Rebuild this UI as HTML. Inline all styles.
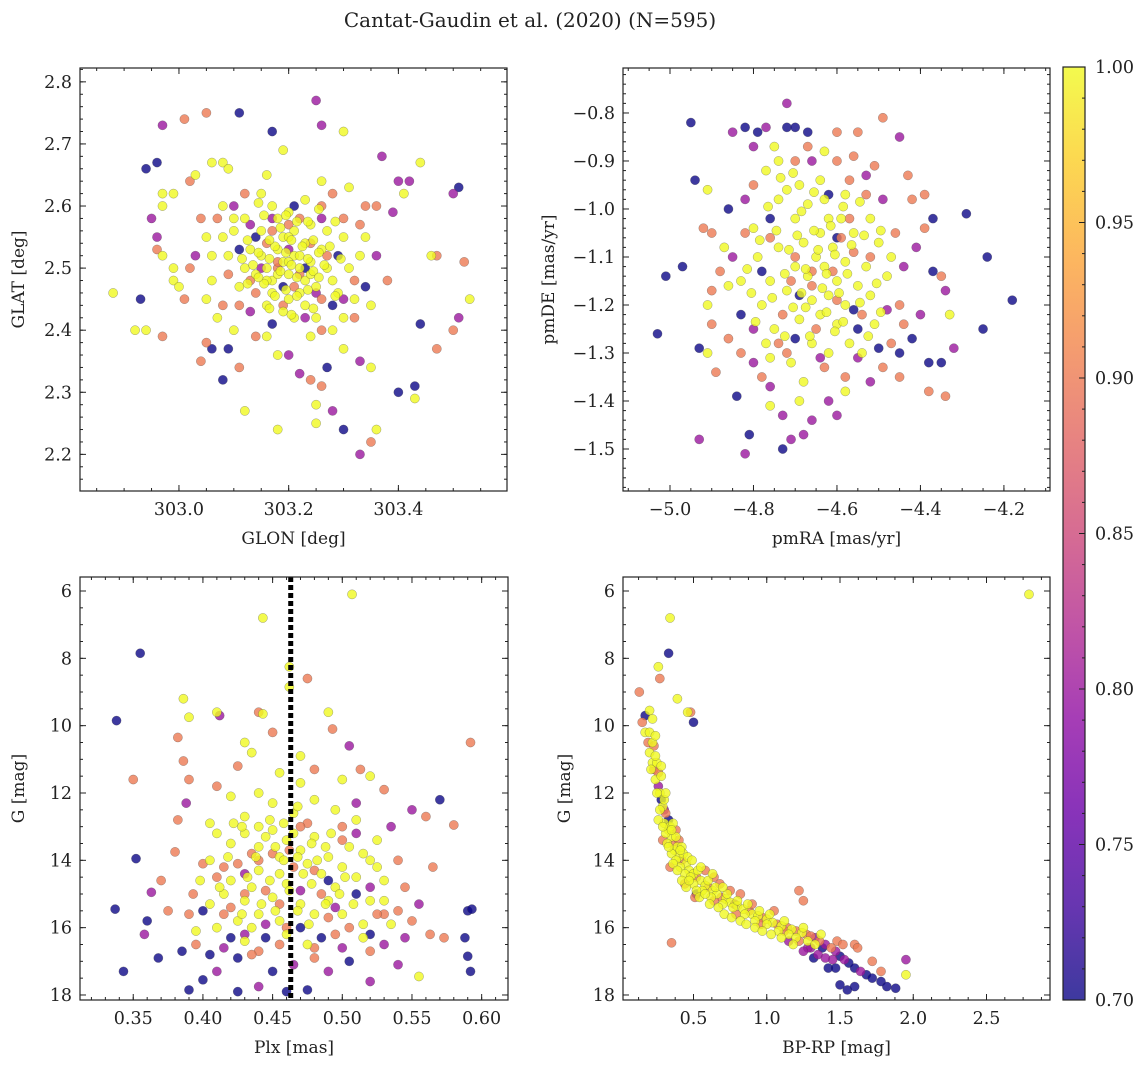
<!DOCTYPE html>
<html><head><meta charset="utf-8"><style>
body{margin:0;background:#fff;}
svg text{font-family:"DejaVu Serif","Liberation Serif",serif;fill:#222;}
</style></head><body>
<svg id="fig" width="1148" height="1067" viewBox="0 0 1148 1067" xmlns="http://www.w3.org/2000/svg">
<defs>
<linearGradient id="plasma" x1="0" y1="1" x2="0" y2="0">
<stop offset="0" stop-color="#0d0887"/><stop offset="0.1" stop-color="#41049d"/><stop offset="0.2" stop-color="#6a00a8"/><stop offset="0.3" stop-color="#8f0da4"/><stop offset="0.4" stop-color="#b12a90"/><stop offset="0.5" stop-color="#cc4778"/><stop offset="0.6" stop-color="#e16462"/><stop offset="0.7" stop-color="#f2844b"/><stop offset="0.8" stop-color="#fca636"/><stop offset="0.9" stop-color="#fcce25"/><stop offset="1" stop-color="#f0f921"/>
</linearGradient>
</defs>
<text x="530" y="27" font-size="20" text-anchor="middle">Cantat-Gaudin et al. (2020) (N=595)</text>
</svg>
<script>
// ---- data (x, y, membership probability) ----
const glonGlat = [
[302.88,2.46,1],[302.92,2.40,1],[302.94,2.40,1],[302.93,2.45,0.7],[302.95,2.58,0.8],[302.96,2.55,0.8],[302.96,2.53,0.9],[302.97,2.73,0.8],[302.96,2.67,0.7],[302.94,2.66,0.7],[303.01,2.74,0.9],[302.97,2.62,1],[302.97,2.60,1],[302.99,2.62,1],[303.02,2.64,0.9],[303.03,2.65,1],[302.99,2.50,1],[302.99,2.48,1],[302.97,2.52,1],[303.0,2.47,1],[303.01,2.45,0.9],[302.97,2.39,0.9],[303.05,2.75,0.9],[303.11,2.75,0.7],[303.06,2.67,1],[303.08,2.67,1],[303.09,2.66,1],[303.17,2.72,0.7],[303.19,2.69,1],[303.16,2.65,1],[303.25,2.77,0.8],[303.26,2.73,0.8],[303.3,2.72,1],[303.37,2.68,0.8],[303.44,2.67,1],[303.4,2.64,0.8],[303.42,2.64,0.8],[303.41,2.62,1],[303.5,2.62,0.8],[303.51,2.63,0.7],[303.39,2.59,0.8],[303.36,2.60,0.9],[303.34,2.60,0.9],[303.46,2.52,1],[303.47,2.52,0.9],[303.52,2.51,0.9],[303.53,2.45,1],[303.51,2.42,0.8],[303.5,2.40,0.9],[303.44,2.41,0.7],[303.47,2.37,0.9],[303.43,2.31,0.7],[303.43,2.29,1],[303.4,2.30,0.7],[303.36,2.24,1],[303.35,2.22,0.9],[303.33,2.20,0.8],[303.3,2.24,0.7],[303.35,2.34,1],[303.33,2.35,0.8],[303.28,2.27,0.8],[303.25,2.25,1],[303.25,2.28,1],[303.18,2.24,1],[303.12,2.27,1],[303.08,2.32,0.7],[303.06,2.37,0.7],[303.09,2.37,0.7],[303.11,2.34,0.9],[303.05,2.38,0.9],[303.04,2.35,0.9],[303.2,2.36,0.8],[303.22,2.33,0.8],[303.18,2.36,1],[303.24,2.32,0.9],[303.26,2.31,0.9],[303.27,2.34,0.7],[303.3,2.37,1],
[303.05,2.55,1],[303.07,2.58,0.9],[303.03,2.52,0.8],[303.06,2.48,1],[303.08,2.44,0.9],[303.1,2.6,0.8],[303.12,2.62,0.9],[303.28,2.62,0.9],[303.31,2.63,1],[303.33,2.57,0.9],[303.36,2.52,0.8],[303.38,2.48,0.9],[303.35,2.44,1],[303.32,2.42,0.9],[303.3,2.45,0.8],[303.34,2.47,0.7],[303.13,2.43,0.8],[303.1,2.40,1],[303.14,2.39,0.9],[303.17,2.41,0.7],[303.26,2.40,0.9],[303.29,2.52,0.7],[303.11,2.53,0.7],[303.13,2.57,0.8],[303.26,2.58,0.8],[303.04,2.58,0.9],[303.02,2.5,0.9],
[303.15,2.52,1],[303.16,2.5,1],[303.17,2.48,1],[303.18,2.53,1],[303.19,2.51,1],[303.2,2.49,1],[303.21,2.52,1],[303.22,2.5,1],[303.23,2.48,1],[303.24,2.51,1],[303.19,2.55,1],[303.21,2.56,1],[303.23,2.54,1],[303.17,2.46,1],[303.2,2.45,1],[303.22,2.46,1],[303.25,2.47,1],[303.26,2.53,1],[303.14,2.49,1],[303.13,2.53,1],[303.18,2.58,1],[303.2,2.59,1],[303.24,2.57,1],[303.27,2.5,1],[303.16,2.44,1],[303.19,2.43,1],[303.23,2.44,1],[303.15,2.56,1],[303.12,2.5,1],[303.28,2.48,1],[303.18,2.5,0.9],[303.21,2.47,0.9],[303.24,2.54,0.9],[303.16,2.54,0.9],[303.2,2.53,0.8],[303.23,2.5,0.7],[303.19,2.47,0.7],[303.17,2.56,0.9],[303.22,2.58,0.9],[303.26,2.45,0.9],[303.14,2.46,0.9],[303.11,2.47,1],[303.09,2.52,1],[303.1,2.56,1],[303.27,2.56,1],[303.29,2.46,1],[303.25,2.42,1],[303.21,2.42,1],[303.17,2.6,1],[303.23,2.61,1],[303.2,2.51,1],[303.18,2.49,1],[303.22,2.52,1],[303.2,2.55,1],[303.16,2.48,1],[303.24,2.49,1],[303.12,2.58,1],[303.3,2.55,1],[303.08,2.55,1],[303.31,2.5,1],[303.05,2.45,1],[303.33,2.52,1],[303.15,2.62,1],[303.26,2.64,1],[303.07,2.42,1],[303.28,2.4,1],
[303.165,2.515,1],[303.175,2.535,1],[303.185,2.495,1],[303.195,2.525,1],[303.205,2.505,1],[303.215,2.485,1],[303.225,2.535,1],[303.235,2.515,1],[303.245,2.495,1],[303.155,2.475,1],[303.175,2.455,1],[303.195,2.465,1],[303.215,2.455,1],[303.235,2.465,1],[303.255,2.485,1],[303.255,2.525,1],[303.245,2.545,1],[303.205,2.545,1],[303.185,2.565,1],[303.165,2.545,1],[303.145,2.525,1],[303.135,2.505,1],[303.145,2.485,1],[303.265,2.505,1],[303.275,2.535,1],[303.215,2.575,1],[303.195,2.585,1],[303.235,2.575,1],[303.155,2.585,1],[303.125,2.545,1],[303.115,2.515,1],[303.125,2.475,1],[303.165,2.435,1],[303.205,2.425,1],[303.245,2.435,1],[303.285,2.455,1],[303.295,2.515,1],[303.285,2.575,1],[303.255,2.595,1],[303.145,2.605,1],
[303.18,2.51,0.9],[303.22,2.49,0.9],[303.2,2.57,0.9],[303.25,2.46,0.8],[303.15,2.5,0.8],[303.27,2.52,0.9],[303.19,2.44,0.9],[303.23,2.42,0.8],[303.13,2.48,0.9],[303.17,2.58,0.8],[303.26,2.6,0.9],[303.21,2.6,0.7],[303.14,2.55,0.7],[303.28,2.44,0.7],[303.11,2.44,0.9],[303.3,2.58,0.9],[303.09,2.49,0.9],[303.32,2.48,0.9],[303.1,2.58,1],[303.3,2.42,1],[303.16,2.39,1],[303.24,2.39,1],[303.06,2.52,1],[303.34,2.55,1],[303.08,2.6,1],[303.32,2.45,1]
];
const pmPts = [
[-5.03,-1.26,0.7],[-5.01,-1.14,0.7],[-4.97,-1.12,0.7],[-4.95,-0.82,0.7],[-4.94,-0.94,0.7],[-4.93,-1.29,0.7],[-4.93,-1.48,0.8],[-4.91,-0.96,1],[-4.92,-1.04,0.9],[-4.9,-1.05,0.9],[-4.9,-1.17,0.9],[-4.9,-1.24,0.9],[-4.91,-1.30,1],[-4.89,-1.34,0.9],[-4.91,-1.20,1],[-4.85,-0.84,0.8],[-4.82,-0.83,0.7],[-4.79,-0.84,0.7],[-4.8,-0.87,0.8],[-4.77,-0.83,0.8],[-4.72,-0.83,0.7],[-4.7,-0.83,0.7],[-4.72,-0.78,0.8],[-4.67,-0.84,0.7],[-4.6,-0.84,0.9],[-4.55,-0.84,0.9],[-4.49,-0.81,0.9],[-4.45,-0.85,0.8],[-4.86,-1.0,0.7],[-4.84,-1.39,0.7],[-4.81,-1.47,0.7],[-4.82,-1.51,0.8],[-4.76,-1.41,1],[-4.73,-1.43,0.8],[-4.73,-1.50,0.7],[-4.71,-1.48,0.8],[-4.68,-1.47,0.8],[-4.66,-1.44,0.8],[-4.62,-1.40,0.8],[-4.6,-1.43,0.8],[-4.38,-1.32,0.7],[-4.35,-1.32,0.7],[-4.34,-1.39,0.9],[-4.38,-1.38,0.9],[-4.33,-1.22,1],[-4.32,-1.29,0.8],[-4.34,-1.17,0.8],[-4.29,-1.01,0.7],[-4.25,-1.25,0.7],[-4.24,-1.10,0.7],[-4.18,-1.19,0.7],[-4.37,-1.13,0.7],[-4.37,-1.02,0.7],[-4.35,-1.14,0.9],[-4.39,-0.97,0.9],[-4.39,-1.04,0.9],[-4.42,-1.27,0.7],[-4.45,-1.35,0.9],[-4.42,-0.98,0.9],[-4.49,-0.98,0.8],[-4.51,-0.91,0.9],[-4.48,-1.21,0.8],[-4.52,-1.36,0.8],[-4.55,-1.31,0.8],[-4.5,-1.29,0.7],
[-4.85,-1.1,0.8],[-4.83,-1.22,0.7],[-4.83,-1.3,0.9],[-4.8,-1.25,0.8],[-4.78,-1.35,0.9],[-4.76,-1.31,1],[-4.8,-0.95,0.9],[-4.77,-0.92,1],[-4.74,-0.9,1],[-4.7,-0.9,0.9],[-4.66,-0.9,0.8],[-4.6,-0.9,0.9],[-4.57,-0.94,0.9],[-4.53,-0.97,0.9],[-4.46,-1.05,0.9],[-4.44,-1.12,0.8],[-4.45,-1.2,0.9],[-4.47,-1.28,0.9],[-4.58,-1.35,0.9],[-4.63,-1.33,0.9],[-4.68,-1.36,1],[-4.72,-1.3,0.9],[-4.86,-1.16,1],[-4.87,-1.08,1],[-4.82,-1.05,0.9],[-4.62,-0.97,0.7],[-4.55,-1.25,0.7],[-4.7,-1.27,0.7],[-4.76,-1.02,0.7],
[-4.65,-1.1,1],[-4.63,-1.12,1],[-4.61,-1.08,1],[-4.67,-1.14,1],[-4.6,-1.15,1],[-4.64,-1.05,1],[-4.68,-1.07,1],[-4.7,-1.12,1],[-4.58,-1.11,1],[-4.62,-1.18,1],[-4.66,-1.19,1],[-4.72,-1.17,1],[-4.56,-1.05,1],[-4.59,-1.02,1],[-4.7,-1.02,1],[-4.74,-1.08,1],[-4.55,-1.16,1],[-4.64,-1.22,1],[-4.69,-1.23,1],[-4.6,-1.24,1],[-4.53,-1.12,1],[-4.76,-1.15,1],[-4.67,-0.99,1],[-4.63,-0.98,1],[-4.72,-0.96,1],[-4.58,-1.2,1],[-4.52,-1.18,1],[-4.78,-1.2,1],[-4.75,-1.25,1],[-4.66,-1.28,1],[-4.57,-1.28,1],[-4.51,-1.24,1],[-4.5,-1.07,1],[-4.52,-1.02,1],[-4.79,-1.1,1],[-4.8,-1.04,1],[-4.74,-0.98,1],[-4.69,-0.95,1],[-4.62,-1.02,1],[-4.66,-1.16,0.9],[-4.61,-1.13,0.9],[-4.7,-1.1,0.9],[-4.56,-1.09,0.9],[-4.65,-1.25,0.9],[-4.73,-1.22,0.9],[-4.59,-1.06,0.9],[-4.54,-1.22,0.9],[-4.48,-1.14,1],[-4.47,-1.1,1],[-4.83,-1.15,1],[-4.77,-1.28,1],[-4.62,-1.3,1],[-4.54,-1.3,1],[-4.71,-1.32,1],[-4.64,-0.94,1],[-4.58,-0.97,1],
[-4.645,-1.085,1],[-4.625,-1.135,1],[-4.605,-1.095,1],[-4.675,-1.125,1],[-4.685,-1.175,1],[-4.635,-1.165,1],[-4.595,-1.175,1],[-4.655,-1.045,1],[-4.695,-1.055,1],[-4.715,-1.085,1],[-4.725,-1.135,1],[-4.575,-1.135,1],[-4.565,-1.075,1],[-4.615,-1.035,1],[-4.675,-1.205,1],[-4.625,-1.215,1],[-4.705,-1.205,1],[-4.745,-1.045,1],[-4.755,-1.185,1],[-4.545,-1.195,1],[-4.585,-1.235,1],[-4.535,-1.055,1],[-4.685,-1.005,1],[-4.655,-0.965,1],[-4.735,-0.935,1],[-4.705,-0.925,1],[-4.605,-1.255,1],[-4.665,-1.265,1],[-4.725,-1.265,1],[-4.785,-1.065,1],[-4.815,-1.125,1],[-4.805,-1.175,1],[-4.505,-1.155,1],[-4.495,-1.215,1],[-4.525,-1.265,1],[-4.795,-1.235,1],[-4.765,-0.995,1],[-4.585,-0.995,1],[-4.545,-0.985,1],[-4.495,-1.045,1],
[-4.66,-1.13,0.9],[-4.6,-1.19,0.9],[-4.71,-1.15,0.9],[-4.57,-1.02,0.9],[-4.76,-1.06,0.9],[-4.52,-1.1,0.9],[-4.74,-1.28,0.9],[-4.64,-1.31,0.8],[-4.8,-1.32,0.8],[-4.82,-0.98,0.8],[-4.53,-0.93,0.8],[-4.49,-1.33,0.9],[-4.44,-1.24,0.9],[-4.43,-0.93,0.9],[-4.86,-1.27,0.9],[-4.88,-1.13,0.9],[-4.67,-0.87,0.9],[-4.63,-0.88,1],[-4.75,-0.87,1],[-4.58,-1.38,1],[-4.69,-1.4,1],[-4.76,-1.37,0.8],[-4.56,-0.89,0.9],[-4.6,-1.06,0.7],[-4.69,-1.18,0.7],[-4.56,-1.21,0.7],[-4.78,-1.13,0.7],[-4.45,-1.3,0.7],[-4.4,-1.22,0.8],[-4.41,-1.08,0.8]
];
const plxG = [
[0.338,9.85,0.7],[0.355,7.85,0.7],[0.337,15.45,0.7],[0.343,17.3,0.7],[0.35,11.6,0.9],[0.352,13.95,0.7],[0.36,15.8,0.7],[0.363,14.95,0.8],[0.358,16.2,0.8],[0.368,16.9,0.7],[0.38,13.75,0.9],[0.382,10.35,0.9],[0.386,11.05,0.9],[0.382,12.8,0.9],[0.388,12.3,0.8],[0.39,11.6,0.9],[0.386,9.2,1],[0.39,9.75,1],[0.385,16.7,0.7],[0.39,17.85,0.7],[0.393,15.0,0.9],[0.4,17.55,0.7],[0.41,9.6,1],[0.412,9.7,0.8],[0.43,10.5,1],[0.435,10.8,1],[0.44,9.6,0.9],[0.443,9.65,1],[0.443,6.8,1],[0.462,8.25,1],[0.462,8.85,1],[0.475,8.6,0.9],[0.49,9.6,1],[0.493,10.1,0.9],[0.507,6.1,1],[0.505,10.6,0.8],[0.513,11.3,0.9],[0.52,11.5,1],[0.53,11.9,0.9],[0.55,12.5,0.8],[0.57,12.2,0.7],[0.56,12.7,0.9],[0.58,12.95,0.9],[0.592,10.5,0.9],[0.565,14.2,0.9],[0.59,15.5,0.7],[0.593,15.45,0.7],[0.588,16.3,0.7],[0.59,16.85,0.7],[0.592,17.3,0.7],[0.563,16.2,0.9],[0.573,16.3,0.9],[0.55,15.8,0.9],[0.555,17.45,1],[0.54,17.1,0.8],[0.53,16.5,0.8],[0.52,17.6,0.8],[0.49,17.3,0.8],[0.475,17.85,0.7],[0.46,17.9,0.7],[0.44,17.75,0.8],[0.425,17.9,0.7],[0.45,17.3,0.7],[0.41,17.3,0.8],[0.405,16.8,0.7],[0.42,16.3,0.7],[0.37,14.6,0.9],[0.375,15.5,0.9],[0.395,16.1,1],[0.4,14.1,0.9],[0.405,12.9,1],[0.41,11.8,0.9],[0.42,12.1,1],[0.425,11.2,0.9],[0.45,10.2,0.9],[0.47,10.9,1],[0.48,11.3,0.9],[0.5,11.6,1],[0.51,12.3,0.8],[0.535,13.0,0.8],[0.54,14.0,0.9],[0.545,14.8,0.9],[0.555,15.3,0.8],[0.53,15.6,0.9],[0.52,16.2,0.7],[0.5,16.6,0.8],[0.48,16.9,0.9],[0.44,16.7,0.9],[0.43,16.2,0.8],[0.415,15.6,0.9],[0.47,16.0,0.7],[0.51,15.0,0.7],
[0.42,13.5,1],[0.43,13.2,1],[0.44,13.6,1],[0.45,13.1,1],[0.455,13.9,1],[0.46,13.4,1],[0.47,13.7,1],[0.475,14.1,1],[0.48,13.3,1],[0.485,14.4,1],[0.49,13.9,1],[0.5,14.2,1],[0.495,14.8,1],[0.505,13.6,1],[0.51,14.5,1],[0.44,14.3,1],[0.435,14.8,1],[0.43,15.2,1],[0.42,14.6,1],[0.415,15.0,1],[0.45,15.1,1],[0.46,14.7,1],[0.47,15.3,1],[0.48,15.6,1],[0.455,15.8,1],[0.44,15.6,1],[0.425,15.8,1],[0.49,15.2,1],[0.5,15.6,1],[0.515,15.9,1],[0.52,14.0,1],[0.525,13.4,1],[0.51,12.8,1],[0.495,12.5,1],[0.48,12.2,1],[0.465,12.6,1],[0.45,12.3,1],[0.44,12.0,1],[0.43,12.7,1],[0.47,11.7,1],[0.455,11.4,1],[0.46,16.2,1],[0.475,16.5,1],[0.435,16.0,1],[0.41,16.0,1],[0.405,14.0,1],[0.41,13.2,1],[0.52,15.2,1],[0.53,14.6,1],[0.535,15.9,1],
[0.425,14.1,0.9],[0.435,13.8,0.9],[0.445,14.9,0.9],[0.465,14.2,0.9],[0.475,12.9,0.9],[0.485,15.0,0.9],[0.5,13.0,0.9],[0.455,16.5,0.9],[0.42,15.4,0.9],[0.41,14.5,0.9],[0.495,16.2,0.9],[0.505,16.0,0.9],[0.52,14.8,0.8],[0.43,14.4,0.8],[0.47,14.9,0.8],[0.49,14.6,0.7],[0.445,16.3,0.7],[0.485,16.3,0.7],[0.4,15.5,0.7],[0.415,16.6,0.8],
[0.445,13.3,1],[0.452,13.6,1],[0.458,14.0,1],[0.465,13.2,1],[0.468,13.9,1],[0.472,14.4,1],[0.478,13.5,1],[0.482,14.0,1],[0.488,13.6,1],[0.438,13.9,1],[0.432,14.5,1],[0.448,14.6,1],[0.455,14.4,1],[0.462,14.9,1],[0.468,15.5,1],[0.442,15.3,1],[0.452,15.5,1],[0.478,14.7,1],[0.488,15.3,1],[0.498,15.0,1],[0.428,13.0,1],[0.422,12.9,1],[0.418,13.9,1],[0.412,14.8,1],[0.428,15.6,1],[0.448,12.8,1],[0.458,12.9,1],[0.492,13.2,1],[0.502,14.5,1],[0.508,15.3,1],[0.515,13.8,1],[0.468,12.4,1],[0.44,13.0,1],[0.476,15.9,1],[0.43,16.4,1],[0.405,15.3,1],[0.398,14.6,1],[0.525,14.2,1],[0.53,15.2,1],[0.515,16.3,1],
[0.45,13.8,0.9],[0.462,13.7,0.9],[0.48,14.3,0.9],[0.44,14.0,0.9],[0.455,15.3,0.9],[0.47,13.0,0.9],[0.49,15.7,0.9],[0.43,15.0,0.9],[0.5,13.4,0.9],[0.415,14.2,0.9],[0.46,16.0,0.9],[0.48,16.6,0.9],[0.435,16.8,0.9],[0.52,16.7,0.9],[0.51,13.2,0.8],[0.495,15.4,0.8],[0.445,15.9,0.8],[0.425,16.9,0.7],[0.465,17.1,0.8],[0.505,17.0,0.7],[0.395,16.5,0.9],[0.39,15.6,0.9],[0.525,15.6,0.9],[0.54,15.5,0.9],[0.545,16.3,0.8]
];
const bprpG = [
[2.79,6.1,1],[0.34,6.8,1],[0.26,8.25,1],[0.27,8.6,0.9],[0.33,7.85,0.7],[0.39,9.2,1],[0.46,9.6,1],[0.48,9.6,0.9],[0.5,9.9,0.7],[0.35,16.45,0.9],[0.52,15.0,0.7],[1.95,16.95,0.8],[1.95,17.4,1],[1.6,16.5,0.9],[1.22,14.9,0.9],[1.25,15.2,0.9],[0.13,9.0,0.9],[0.17,9.7,0.7],[0.2,9.55,1],[0.22,9.8,1],
[0.15,9.9,0.9],[0.17,10.2,1],[0.19,10.5,0.9],[0.2,10.8,1],[0.22,11.1,1],[0.23,11.3,0.9],[0.24,11.6,1],[0.26,11.8,0.8],[0.27,12.0,1],[0.28,12.2,0.7],[0.29,12.4,1],[0.31,12.6,0.9],[0.3,12.9,1],[0.33,12.8,0.7],[0.33,13.1,1],[0.35,13.3,1],[0.36,13.5,0.9],[0.37,13.7,1],[0.39,13.6,1],[0.4,13.9,1],[0.42,14.0,0.9],[0.45,14.1,1],[0.47,14.3,1],[0.5,14.4,1],[0.52,14.5,0.9],[0.55,14.6,1],[0.58,14.75,1],[0.6,14.8,0.9],[0.63,14.9,1],[0.66,15.0,1],[0.69,15.1,0.9],[0.72,15.15,1],[0.75,15.25,1],[0.78,15.3,0.8],[0.8,15.35,1],[0.84,15.45,1],[0.88,15.5,0.9],[0.9,15.6,1],[0.94,15.65,1],[0.97,15.7,0.9],[1.0,15.75,1],[1.04,15.85,1],[1.07,15.9,0.9],[1.1,15.95,1],[1.14,16.0,0.9],[1.17,16.05,1],[1.2,16.1,0.9],[1.24,16.15,1],[1.27,16.2,0.9],[1.3,16.25,0.9],[1.33,16.3,0.8],[1.36,16.4,0.9],[1.4,16.5,0.8],[1.44,16.6,0.9],[1.47,16.7,0.8],[1.5,16.85,0.7],[1.53,16.95,0.8],[1.56,17.05,0.7],[1.6,17.2,0.7],[1.64,17.3,0.8],[1.68,17.4,0.7],[1.72,17.5,0.7],[1.78,17.6,0.7],[1.82,17.75,0.7],[1.88,17.8,0.7],[1.55,17.85,0.7],[1.6,17.75,0.7],[1.5,17.7,0.7],[1.42,17.2,0.7],[1.45,16.95,0.8],[1.38,16.6,0.7],
[0.2,10.2,1],[0.22,10.5,1],[0.21,11.3,1],[0.25,11.1,1],[0.25,12.0,1],[0.27,12.5,1],[0.3,12.2,1],[0.31,13.2,1],[0.32,13.5,1],[0.34,13.0,1],[0.35,13.8,1],[0.38,14.0,1],[0.41,14.2,1],[0.43,13.8,1],[0.44,14.4,1],[0.48,14.5,1],[0.5,14.7,1],[0.53,14.3,1],[0.56,14.9,1],[0.6,14.6,1],[0.62,15.1,1],[0.65,14.8,1],[0.7,15.3,1],[0.73,15.0,1],[0.77,15.4,1],[0.8,15.2,1],[0.85,15.6,1],[0.87,15.3,1],[0.92,15.8,1],[0.95,15.5,1],[1.0,15.9,1],[1.02,15.6,1],[1.08,16.1,1],[1.12,15.8,1],[1.15,16.2,1],[1.2,16.3,1],[1.25,16.0,1],[1.28,16.4,1],[1.33,16.5,1],[1.37,16.2,1],[0.42,13.6,1],[0.38,13.3,1],[0.46,13.9,1],[0.55,14.2,1],[0.36,12.9,1],[0.28,11.5,1],[0.24,10.9,1],[0.64,14.5,0.9],[0.75,14.9,0.9],[0.9,15.3,0.9],[1.05,15.5,0.9],[0.82,15.0,0.9],[0.68,14.7,0.9],[0.58,14.3,0.9],[0.4,13.4,0.9],[1.3,16.6,0.8],[1.15,16.4,0.8],[1.35,16.8,0.8],[1.48,16.4,0.9],[1.52,16.5,0.9],[1.62,16.6,0.9],[1.72,17.0,0.9],[1.78,17.3,0.9],
[0.33,13.6,1],[0.36,14.1,1],[0.39,14.3,1],[0.42,14.6,1],[0.45,14.8,1],[0.47,14.6,1],[0.52,14.9,1],[0.54,15.1,1],[0.58,15.0,1],[0.61,15.3,1],[0.67,15.4,1],[0.71,15.6,1],[0.76,15.7,1],[0.82,15.8,1],[0.86,15.9,1],[0.92,16.0,1],[0.97,16.1,1],[1.03,16.2,1],[1.1,16.3,1],[1.18,16.5,1],[0.26,12.8,1],[0.29,13.0,1],[0.31,12.0,1],[0.28,11.2,1],[0.24,10.3,1],[0.35,13.1,1],[0.41,13.7,1],[0.49,14.0,1],[0.63,14.4,1],[0.7,14.8,1],[0.29,13.4,0.9],[0.34,14.2,0.9],[0.44,14.7,0.9],[0.51,15.1,0.9],[0.64,15.2,0.9],[0.79,15.6,0.9],[0.96,15.9,0.9],[1.12,16.1,0.9],[1.22,16.4,0.9],[1.28,16.6,0.8],[1.4,16.9,0.8],[1.32,16.9,0.7],[1.47,17.2,0.7],[1.25,16.7,0.8],[0.23,10.6,0.9],[0.26,11.4,0.9],[0.3,12.5,0.8],[0.38,13.1,0.9]
];
const panelTitlesX = ["GLON [deg]","pmRA [mas/yr]","Plx [mas]","BP-RP [mag]"];
const panelTitlesY = ["GLAT [deg]","pmDE [mas/yr]","G [mag]","G [mag]"];
const ticks1x=[303.0,303.2,303.4], ticks1y=[2.2,2.3,2.4,2.5,2.6,2.7,2.8];
const ticks2x=[-5.0,-4.8,-4.6,-4.4,-4.2], ticks2y=[-1.5,-1.4,-1.3,-1.2,-1.1,-1.0,-0.9,-0.8];
const ticks3x=[0.35,0.40,0.45,0.50,0.55,0.60], ticksGy=[6,8,10,12,14,16,18];
const ticks4x=[0.5,1.0,1.5,2.0,2.5];
const cbTicks=[0.70,0.75,0.80,0.85,0.90,0.95,1.00];
const plxLine=0.463;

const NS="http://www.w3.org/2000/svg";
const svg=document.getElementById('fig');
function mk(tag,attrs,parent){const e=document.createElementNS(NS,tag);for(const k in attrs)e.setAttribute(k,attrs[k]);(parent||svg).appendChild(e);return e;}
const stops=["#0d0887","#41049d","#6a00a8","#8f0da4","#b12a90","#cc4778","#e16462","#f2844b","#fca636","#fcce25","#f0f921"];
function hx(c){return [parseInt(c.substr(1,2),16),parseInt(c.substr(3,2),16),parseInt(c.substr(5,2),16)];}
function plasma(p){let t=Math.max(0,Math.min(1,(p-0.7)/0.3))*10;const i=Math.min(9,Math.floor(t)),f=t-i;const a=hx(stops[i]),b=hx(stops[i+1]);return 'rgb('+a.map((v,k)=>Math.round(v+(b[k]-v)*f)).join(',')+')';}

function fmt(v,d){return (v<0?'\u2212':'')+Math.abs(v).toFixed(d);}

function panel(cfg){
  const {name,L,R,T,B,x0,x1,y0,y1,xt,yt,xd,yd,xmin,ymin,pts,xl,yl,idx}=cfg;
  const sx=v=>L+(v-x0)/(x1-x0)*(R-L), sy=v=>T+(v-y0)/(y1-y0)*(B-T);
  const g=mk('g',{});
  
  
  const cid='clip'+idx;
  const cp=mk('clipPath',{id:cid},g);mk('rect',{x:L,y:T,width:R-L,height:B-T},cp);
  const pg=mk('g',{'clip-path':'url(#'+cid+')'},g);
  
  
  const sorted=pts.slice().sort((a,b)=>a[2]-b[2]);
  sorted.forEach(p=>{
    const c=mk('circle',{cx:sx(p[0]),cy:sy(p[1]),r:4.6,fill:plasma(p[2]),'fill-opacity':0.8,stroke:'#444','stroke-opacity':0.5,'stroke-width':0.5},pg);
    
    
  });
  if(cfg.vline!==undefined){
    const ln=mk('line',{x1:sx(cfg.vline),x2:sx(cfg.vline),y1:T,y2:B,stroke:'#000','stroke-width':5,'stroke-dasharray':'5,3'},pg);
    
    
  }
  const fr=mk('rect',{x:L,y:T,width:R-L,height:B-T,fill:'none',stroke:'#222','stroke-width':1.2},g);
  
  
  const tk=mk('g',{stroke:'#222','stroke-width':1},g);
  const lo=Math.min(x0,x1),hi=Math.max(x0,x1);
  for(let v=Math.ceil(lo/xmin-1e-6)*xmin;v<=hi+1e-9;v+=xmin){const X=sx(v);mk('line',{x1:X,x2:X,y1:B,y2:B-3},tk);mk('line',{x1:X,x2:X,y1:T,y2:T+3},tk);}
  const ylo=Math.min(y0,y1),yhi=Math.max(y0,y1);
  for(let v=Math.ceil(ylo/ymin-1e-6)*ymin;v<=yhi+1e-9;v+=ymin){const Y=sy(v);mk('line',{x1:L,x2:L+3,y1:Y,y2:Y},tk);mk('line',{x1:R,x2:R-3,y1:Y,y2:Y},tk);}
  xt.forEach(v=>{const X=sx(v);mk('line',{x1:X,x2:X,y1:B,y2:B-6},tk);mk('line',{x1:X,x2:X,y1:T,y2:T+6},tk);
    const t=mk('text',{x:X,y:B+24,'font-size':17.5,'text-anchor':'middle'},g);t.textContent=fmt(v,xd);
    
    });
  yt.forEach(v=>{const Y=sy(v);mk('line',{x1:L,x2:L+6,y1:Y,y2:Y},tk);mk('line',{x1:R,x2:R-6,y1:Y,y2:Y},tk);
    const t=mk('text',{x:L-8,y:Y+6,'font-size':17.5,'text-anchor':'end'},g);t.textContent=fmt(v,yd);
    
    });
  const xa=mk('text',{x:(L+R)/2,y:B+53,'font-size':17,'text-anchor':'middle'},g);xa.textContent=xl;
  
  
  const ya=mk('text',{x:0,y:0,'font-size':17,'text-anchor':'middle',transform:'translate('+cfg.ylx+','+((T+B)/2)+') rotate(-90)'},g);ya.textContent=yl;
  
  
}

panel({name:'glon-glat-panel',idx:1,L:80,R:507,T:68,B:491,x0:302.8196,x1:303.598,y0:2.8223,y1:2.141,xt:ticks1x,yt:ticks1y,xd:1,yd:1,xmin:0.05,ymin:0.02,pts:glonGlat,xl:panelTitlesX[0],yl:panelTitlesY[0],ylx:24});
panel({name:'proper-motion-panel',idx:2,L:623,R:1050,T:68,B:491,x0:-5.1126,x1:-4.0896,y0:-0.7063,y1:-1.5875,xt:ticks2x,yt:ticks2y,xd:1,yd:1,xmin:0.05,ymin:0.02,pts:pmPts,xl:panelTitlesX[1],yl:panelTitlesY[1],ylx:554});
panel({name:'parallax-mag-panel',idx:3,L:80,R:508,T:577,B:1000,x0:0.3118,x1:0.6189,y0:5.584,y1:18.149,xt:ticks3x,yt:ticksGy,xd:2,yd:0,xmin:0.01,ymin:0.5,pts:plxG,xl:panelTitlesX[2],yl:panelTitlesY[2],ylx:24,vline:plxLine});
panel({name:'cmd-panel',idx:4,L:623,R:1050,T:577,B:1000,x0:0.0187,x1:2.9335,y0:5.584,y1:18.149,xt:ticks4x,yt:ticksGy,xd:1,yd:0,xmin:0.125,ymin:0.5,pts:bprpG,xl:panelTitlesX[3],yl:panelTitlesY[3],ylx:570});

// colorbar
const cb=mk('g',{});


const CL=1063,CR=1085,CT=67,CB=1000;
mk('rect',{x:CL,y:CT,width:CR-CL,height:CB-CT,fill:'url(#plasma)','fill-opacity':0.8},cb);
mk('rect',{x:CL,y:CT,width:CR-CL,height:CB-CT,fill:'none',stroke:'#222','stroke-width':1.2},cb);
const cy=v=>CB-(v-0.7)/0.3*(CB-CT);
for(let v=0.70;v<=1.0001;v+=0.01){mk('line',{x1:CR,x2:CR-3,y1:cy(v),y2:cy(v),stroke:'#222'},cb);}
cbTicks.forEach(v=>{mk('line',{x1:CR,x2:CR-6,y1:cy(v),y2:cy(v),stroke:'#222'},cb);
  const t=mk('text',{x:1095,y:cy(v)+6,'font-size':17.5},cb);t.textContent=v.toFixed(2);
  
  });
</script>
</body></html>
